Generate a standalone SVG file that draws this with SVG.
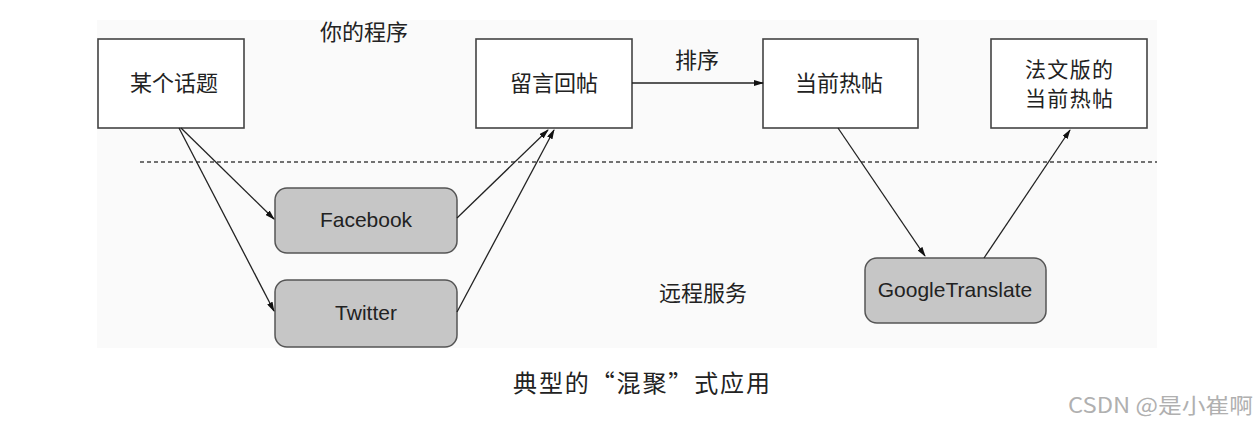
<svg xmlns="http://www.w3.org/2000/svg" width="1259" height="427" viewBox="0 0 1259 427">
<style>
.box{fill:#ffffff;stroke:#444;stroke-width:1.6}
.svc{fill:#c6c6c6;stroke:#555;stroke-width:1.5}
.cn{font-family:"Noto Sans CJK SC","Noto Sans CJK JP",sans-serif;font-size:22px;fill:#222;text-anchor:middle}
.en{font-family:"Liberation Sans",Arial,sans-serif;font-size:21px;fill:#222;text-anchor:middle}
.conn{stroke:#222;stroke-width:1.3;fill:none}
</style>
<defs>
<marker id="arr" markerWidth="10" markerHeight="6" refX="9" refY="3" orient="auto" markerUnits="userSpaceOnUse">
<path d="M0,0 L10,3 L0,6 Z" fill="#111"/>
</marker>
</defs>
<rect x="0" y="0" width="1259" height="427" fill="#ffffff"/>
<rect x="97" y="20" width="1060" height="328" fill="#fafafa"/>
<line x1="140" y1="162" x2="1157" y2="162" stroke="#444" stroke-width="1.5" stroke-dasharray="4,3"/>
<text class="cn" x="364" y="40">你的程序</text>
<text class="cn" x="697" y="68">排序</text>
<text class="cn" x="703" y="301">远程服务</text>
<g id="topic"><rect class="box" x="98" y="39" width="146" height="89"/><text class="cn" x="174" y="91">某个话题</text></g>
<g id="reply"><rect class="box" x="476" y="39" width="156" height="89"/><text class="cn" x="554" y="91">留言回帖</text></g>
<g id="hot"><rect class="box" x="763" y="39" width="155" height="89"/><text class="cn" x="839" y="91">当前热帖</text></g>
<g id="frhot"><rect class="box" x="991" y="39" width="156" height="89"/><text class="cn" x="1069" y="77" style="font-size:21px" textLength="88">法文版的</text><text class="cn" x="1069" y="106" style="font-size:21px" textLength="88">当前热帖</text></g>
<g id="facebook"><rect class="svc" x="275" y="188" width="182" height="65" rx="12"/><text class="en" x="366" y="227">Facebook</text></g>
<g id="twitter"><rect class="svc" x="275" y="280" width="182" height="67" rx="12"/><text class="en" x="366" y="320">Twitter</text></g>
<g id="google"><rect class="svc" x="865" y="258" width="181" height="65" rx="12"/><text class="en" x="955" y="297">GoogleTranslate</text></g>
<g id="connectors">
<line class="conn" x1="632" y1="83" x2="763" y2="83" marker-end="url(#arr)"/>
<line class="conn" x1="181" y1="128" x2="274" y2="219" marker-end="url(#arr)"/>
<line class="conn" x1="179" y1="128" x2="274" y2="311" marker-end="url(#arr)"/>
<line class="conn" x1="457" y1="218" x2="548" y2="130" marker-end="url(#arr)"/>
<line class="conn" x1="457" y1="312" x2="554" y2="130" marker-end="url(#arr)"/>
<line class="conn" x1="838" y1="128" x2="925" y2="256" marker-end="url(#arr)"/>
<line class="conn" x1="984" y1="258" x2="1070" y2="130" marker-end="url(#arr)"/>
</g>
<text x="513" y="392" textLength="257" lengthAdjust="spacing" style="font-family:'Noto Sans CJK SC',serif;font-size:24px;fill:#222">典型的“混聚”式应用</text>
<text x="1068" y="413" textLength="185" lengthAdjust="spacingAndGlyphs" style="font-family:'Noto Sans CJK SC','Liberation Sans',sans-serif;font-size:21px;fill:#b0b0b0">CSDN @是小崔啊</text>
</svg>
